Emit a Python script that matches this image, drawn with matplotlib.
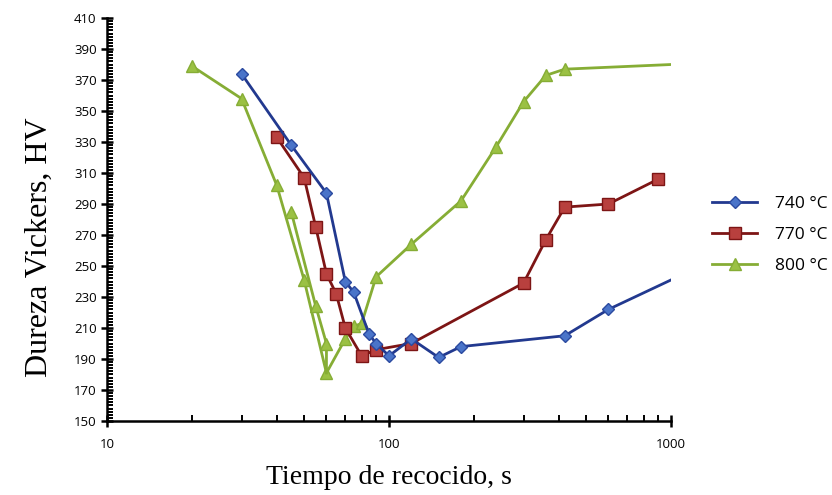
import numpy as np
import matplotlib.pyplot as plt
from matplotlib.ticker import MultipleLocator, FixedLocator, NullFormatter

# annealing time (s) vs Vickers hardness (HV)
t_740 = [30, 45, 60, 70, 75, 85, 90, 100, 120, 150, 180, 420, 600, 1000]
hv_740 = [374, 328, 297, 240, 233, 206, 200, 192, 203, 191, 198, 205, 222, 241]

t_770 = [40, 50, 55, 60, 65, 70, 80, 90, 120, 300, 360, 420, 600, 900]
hv_770 = [333, 307, 275, 245, 232, 210, 192, 196, 200, 239, 267, 288, 290, 306]

t_800 = [20, 30, 40, 50, 60, 70, 75, 80, 90, 120, 180, 240, 300, 360, 420, 1000]
hv_800 = [379, 358, 302, 241, 181, 203, 211, 213, 243, 264, 292, 327, 356, 373, 377, 380]
# second branch of the 800 C curve
t_800b = [45, 55, 60, 60]
hv_800b = [285, 224, 200, 181]

labels = ['740 °C', '770 °C', '800 °C']
y_ticks = list(range(150, 411, 20))

plt.rcParams['font.family'] = ['Open Sans', 'DejaVu Sans']

fig = plt.figure(figsize=(8.32, 4.95), dpi=100)
ax = fig.add_axes([0.1286, 0.1495, 0.6779, 0.8141])

lw = 2.0
ax.plot(t_740, hv_740, color='#22398f', lw=lw, marker='D', ms=6,
        mfc='#4a74c9', mec='#2b4aa0', markevery=list(range(len(t_740) - 1)),
        label=labels[0], zorder=3)
ax.plot(t_770, hv_770, color='#7d1515', lw=lw, marker='s', ms=8.5,
        mfc='#b8403e', mec='#7d1515', label=labels[1], zorder=2)
ax.plot(t_800, hv_800, color='#86ad35', lw=lw, marker='^', ms=8.5,
        mfc='#9bc144', mec='#86ad35', markevery=list(range(len(t_800) - 1)),
        label=labels[2], zorder=1)
ax.plot(t_800b, hv_800b, color='#86ad35', lw=lw, marker='^', ms=8.5,
        mfc='#9bc144', mec='#86ad35', markevery=[0, 1, 2], zorder=1)

ax.set_xscale('log')
ax.set_xlim(10, 1000)
ax.set_ylim(150, 410)

ax.yaxis.set_major_locator(FixedLocator(y_ticks))
ax.yaxis.set_minor_locator(MultipleLocator(2))
ax.xaxis.set_major_locator(FixedLocator([10, 100, 1000]))
ax.xaxis.set_minor_locator(FixedLocator([20, 30, 40, 50, 60, 70, 80, 90,
                                         200, 300, 400, 500, 600, 700, 800, 900]))
ax.xaxis.set_minor_formatter(NullFormatter())
ax.set_xticklabels(['10', '100', '1000'])

ax.spines['top'].set_visible(False)
ax.spines['right'].set_visible(False)
ax.spines['left'].set_linewidth(1.8)
ax.spines['bottom'].set_linewidth(1.8)
ax.tick_params(which='major', direction='inout', length=8, width=1.8, labelsize=9.5)
ax.tick_params(which='minor', direction='in', length=4, width=1.4)
ax.tick_params(axis='x', which='major', pad=8)

ax.set_xlabel('Tiempo de recocido, s', family='Liberation Serif', fontsize=20, labelpad=10)
ax.set_ylabel('Dureza Vickers, HV', family='Liberation Serif', fontsize=23)
ax.yaxis.set_label_coords(-0.094, 0.432)

ax.legend(loc='center left', bbox_to_anchor=(1.045, 0.462), frameon=False,
          fontsize=12.5, handlelength=2.6, labelspacing=0.85, handletextpad=1.0)

fig.savefig('out.png', dpi=100)
